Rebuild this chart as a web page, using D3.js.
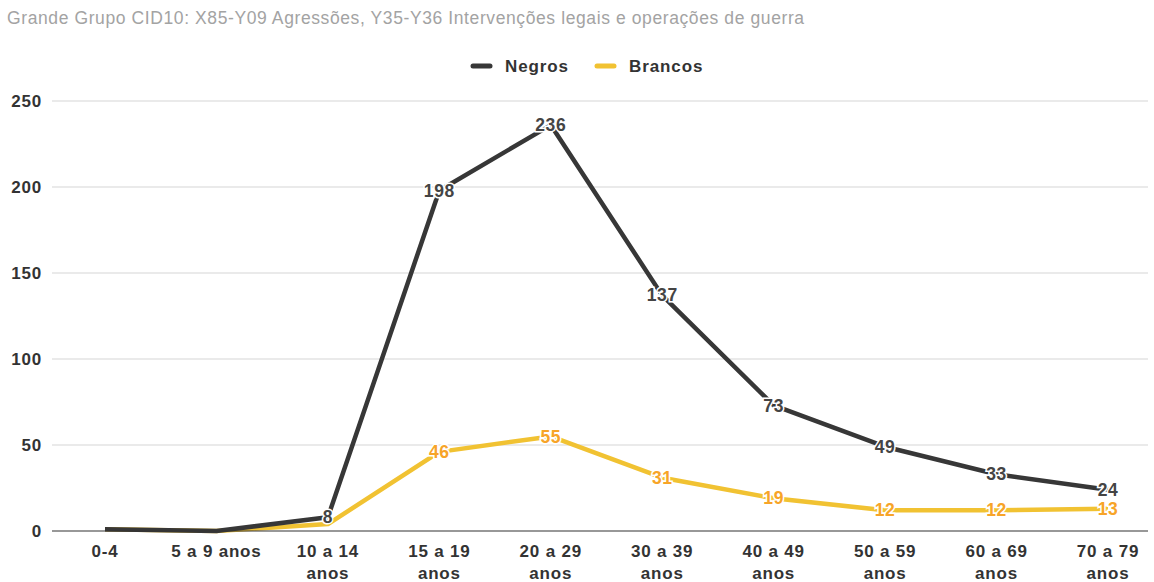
<!DOCTYPE html>
<html>
<head>
<meta charset="utf-8">
<script src="https://cdn.jsdelivr.net/npm/d3@7"></script>
<style>
  body { margin: 0; background: #fff; }
  text { font-family: "Liberation Sans", Arial, sans-serif; }
</style>
</head>
<body>
<div id="graph"></div>
<script>
var w = 1154
var h = 582

// data
var categories = ["0-4", "5 a 9 anos", "10 a 14 anos", "15 a 19 anos", "20 a 29 anos",
  "30 a 39 anos", "40 a 49 anos", "50 a 59 anos", "60 a 69 anos", "70 a 79 anos"]
// how the tick labels wrap
var tickLines = [["0-4"], ["5 a 9 anos"], ["10 a 14", "anos"], ["15 a 19", "anos"], ["20 a 29", "anos"],
  ["30 a 39", "anos"], ["40 a 49", "anos"], ["50 a 59", "anos"], ["60 a 69", "anos"], ["70 a 79", "anos"]]
var negros = [1, 0, 8, 198, 236, 137, 73, 49, 33, 24]
var brancos = [1, 0, 4, 46, 55, 31, 19, 12, 12, 13]
var yTicks = [0, 50, 100, 150, 200, 250]
var seriesNames = ["Negros", "Brancos"]

var colors = { Negros: "#373737", Brancos: "#f1c232" }
var labelColors = { Negros: "#444", Brancos: "#f7a428" }

var svg = d3.select("#graph").append("svg")
  .attr("width", w)
  .attr("height", h)

// title
svg.append("text")
  .attr("x", 7)
  .attr("y", 24)
  .attr("font-size", 17.5)
  .attr("letter-spacing", 0.6)
  .attr("fill", "#a3a3a3")
  .text("Grande Grupo CID10: X85-Y09 Agressões, Y35-Y36 Intervenções legais e operações de guerra")

var x = d3.scalePoint().domain(categories).range([105, 1108])
var y = d3.scaleLinear().domain([0, 250]).range([531, 101])

var gridLeft = 52, gridRight = 1148

// gridlines
svg.append("g").selectAll("line")
  .data(yTicks.filter(function (d) { return d > 0 }))
  .join("line")
  .attr("x1", gridLeft).attr("x2", gridRight)
  .attr("y1", function (d) { return y(d) }).attr("y2", function (d) { return y(d) })
  .attr("stroke", "#e3e3e3").attr("stroke-width", 1.5)

// y tick labels
svg.append("g").selectAll("text")
  .data(yTicks)
  .join("text")
  .attr("x", 42)
  .attr("y", function (d) { return y(d) })
  .attr("dy", "0.35em")
  .attr("text-anchor", "end")
  .attr("font-size", 17)
  .attr("letter-spacing", 0.8)
  .attr("font-weight", "bold")
  .attr("fill", "#333")
  .text(function (d) { return d })

// x tick labels
var xl = svg.append("g").selectAll("text")
  .data(categories)
  .join("text")
  .attr("x", function (d) { return x(d) })
  .attr("y", 557)
  .attr("text-anchor", "middle")
  .attr("font-size", 17)
  .attr("letter-spacing", 0.8)
  .attr("font-weight", "bold")
  .attr("fill", "#333")
xl.selectAll("tspan")
  .data(function (d, i) { return tickLines[i] })
  .join("tspan")
  .attr("x", function () { return x(d3.select(this.parentNode).datum()) })
  .attr("dy", function (d, i) { return i === 0 ? 0 : 22 })
  .text(function (d) { return d })

var series = [
  { name: "Negros", values: negros },
  { name: "Brancos", values: brancos }
]

var line = d3.line()
  .x(function (d, i) { return x(categories[i]) })
  .y(function (d) { return y(d) })

// draw Brancos first so Negros sits on top like the reference
svg.append("g").selectAll("path")
  .data(series.slice().reverse())
  .join("path")
  .attr("d", function (s) { return line(s.values) })
  .attr("fill", "none")
  .attr("stroke", function (s) { return colors[s.name] })
  .attr("stroke-width", 4.5)
  .attr("stroke-linejoin", "round")

// baseline
svg.append("line")
  .attr("x1", gridLeft).attr("x2", gridRight)
  .attr("y1", y(0)).attr("y2", y(0))
  .attr("stroke", "#333").attr("stroke-width", 1.2)

// data labels (only where the reference shows them)
series.forEach(function (s) {
  svg.append("g").selectAll("text")
    .data(s.values.map(function (v, i) { return { v: v, c: categories[i] } })
      .filter(function (d) { return d.v >= 5 }))
    .join("text")
    .attr("x", function (d) { return x(d.c) })
    .attr("y", function (d) { return y(d.v) })
    .attr("dy", "0.35em")
    .attr("text-anchor", "middle")
    .attr("font-size", 17.5)
    .attr("letter-spacing", 0.6)
    .attr("font-weight", "bold")
    .attr("fill", labelColors[s.name])
    .attr("stroke", "#fff")
    .attr("stroke-width", 3)
    .attr("paint-order", "stroke")
    .text(function (d) { return d.v })
})

// legend
var legend = svg.append("g")
var legendX = [473, 597]
seriesNames.forEach(function (name, i) {
  legend.append("line")
    .attr("x1", legendX[i]).attr("x2", legendX[i] + 17)
    .attr("y1", 66).attr("y2", 66)
    .attr("stroke", colors[name]).attr("stroke-width", 5)
    .attr("stroke-linecap", "round")
  legend.append("text")
    .attr("x", legendX[i] + 32)
    .attr("y", 66)
    .attr("dy", "0.35em")
    .attr("font-size", 17)
    .attr("letter-spacing", 0.9)
    .attr("font-weight", "bold")
    .attr("fill", "#333")
    .text(name)
})
</script>
</body>
</html>
